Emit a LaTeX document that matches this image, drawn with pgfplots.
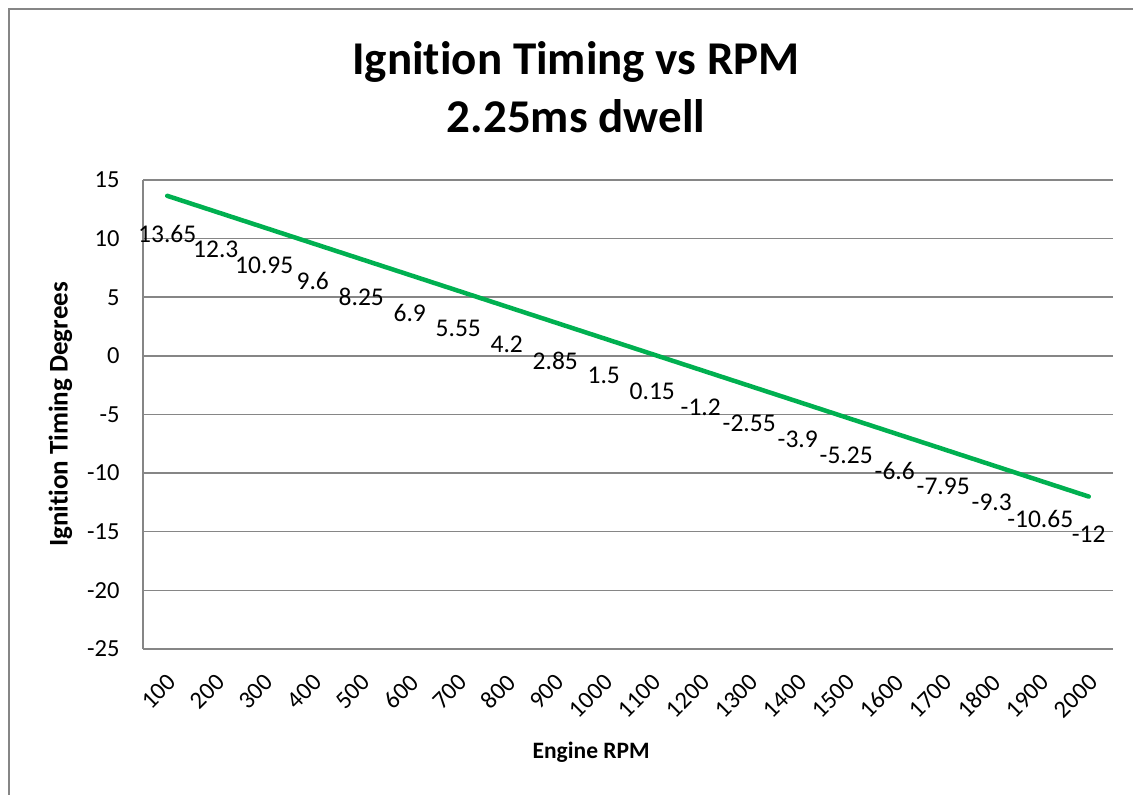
\documentclass[border=0pt]{standalone}
\usepackage{fontspec}
\setmainfont{Carlito}[Ligatures=NoCommon]
\usepackage{pgfplots}
\pgfplotsset{compat=1.18}
\usepackage{pgfplotstable}
\definecolor{linegreen}{RGB}{0,176,80}
\definecolor{gridgray}{RGB}{134,134,134}

\pgfplotstableread{
x y label
0 13.65 13.65
1 12.3 12.3
2 10.95 10.95
3 9.6 9.6
4 8.25 8.25
5 6.9 6.9
6 5.55 5.55
7 4.2 4.2
8 2.85 2.85
9 1.5 1.5
10 0.15 0.15
11 -1.2 -1.2
12 -2.55 -2.55
13 -3.9 -3.9
14 -5.25 -5.25
15 -6.6 -6.6
16 -7.95 -7.95
17 -9.3 -9.3
18 -10.65 -10.65
19 -12 -12
}\datatable

\begin{document}
\begin{tikzpicture}
\path[use as bounding box] (0pt,0pt) rectangle (1133pt,795pt);
\draw[gridgray, line width=1.5pt] (9pt,0pt) -- (9pt,786pt) -- (1133pt,786pt);
\node[anchor=base, font=\fontsize{47}{56}\selectfont\bfseries] at (576pt,720pt) {Ignition Timing vs RPM};
\node[anchor=base, font=\fontsize{47}{56}\selectfont\bfseries] at (576pt,662pt) {2.25ms dwell};
\begin{axis}[
  at={(143pt,146pt)}, anchor=south west, scale only axis,
  width=970pt, height=469pt,
  xmin=-0.5, xmax=19.5, ymin=-25, ymax=15,
  xtick={0,1,...,19},
  xticklabels={100,200,300,400,500,600,700,800,900,1000,1100,1200,1300,1400,1500,1600,1700,1800,1900,2000},
  ytick={-25,-20,-15,-10,-5,0,5,10,15},
  yticklabels={-25,-20,-15,-10,-5,0,5,10,15},
  axis x line*=bottom, axis y line*=left,
  axis line style={gridgray, line width=1.5pt, -},
  ymajorgrids, grid style={gridgray, line width=1.5pt},
  major tick length=0pt,
  tick label style={font=\fontsize{24.5}{29}\selectfont},
  yticklabel style={xshift=-20pt},
  xticklabel style={rotate=45, anchor=east, yshift=-10pt},
  xticklabel shift=20pt,
  xlabel={Engine RPM}, ylabel={Ignition Timing Degrees},
  xlabel style={font=\fontsize{23.5}{28}\selectfont\bfseries, at={(axis description cs:0.462,-0.22)}, anchor=center},
  ylabel style={font=\fontsize{27}{32}\selectfont\bfseries, at={(axis description cs:-0.085,0.5)}, anchor=center},
  clip=false,
]
\addplot[linegreen, line width=4.5pt, line cap=round, line join=round, mark=none,
  nodes near coords, point meta=explicit symbolic,
  nodes near coords style={anchor=north, inner sep=0pt, yshift=-27pt, text=black, font=\fontsize{25.5}{30}\selectfont}]
  table[x=x, y=y, meta=label] {\datatable};
\end{axis}
\end{tikzpicture}
\end{document}
